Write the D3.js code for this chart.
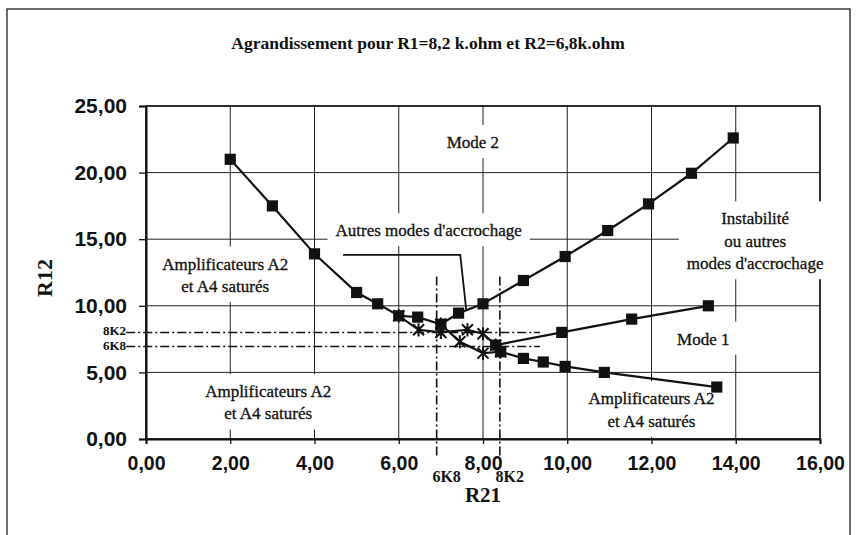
<!DOCTYPE html>
<html>
<head>
<meta charset="utf-8">
<script src="https://cdn.jsdelivr.net/npm/d3@7"></script>
<style>
  body { margin: 0; background: #fff; }
  text { fill: #111; }
</style>
</head>
<body>
<div class="chart"></div>
<script>
// values
var title = "Agrandissement pour R1=8,2 k.ohm et R2=6,8k.ohm";
var xTicks = [0, 2, 4, 6, 8, 10, 12, 14, 16];
var yTicks = [0, 5, 10, 15, 20, 25];

// U-shaped boundary (mode 2)
var mode2Curve = [[2, 21.0], [3, 17.5], [4, 13.9], [5, 11.0], [5.5, 10.15], [6, 9.25],
  [6.45, 9.15], [7, 8.62], [7.42, 9.45], [8, 10.15], [8.96, 11.9], [9.95, 13.7],
  [10.96, 15.65], [11.93, 17.65], [12.95, 19.95], [13.94, 22.6]];
// lower boundary (saturation)
var lowerCurve = [[8.42, 6.55], [8.96, 6.05], [9.43, 5.78], [9.95, 5.45], [10.88, 5.0], [13.55, 3.9]];
// mode 1 boundary
var mode1Curve = [[8.3, 7.05], [9.87, 8.0], [11.53, 9.0], [13.35, 10.0]];
// star series in the crossing zone
var crossA = [[6.0, 9.25], [6.47, 8.2], [7.0, 8.0], [7.63, 8.2], [8.0, 7.9], [8.3, 7.05]];
var crossB = [[7.0, 8.62], [7.45, 7.3], [8.0, 6.45], [8.42, 6.55]];

// reference resistor values (dash-dot lines)
var refX = [6.9, 8.4];
var refXLabels = ["6K8", "8K2"];
var refY = [8.0, 6.95];
var refYLabels = ["8K2", "6K8"];

var zoneTexts = [
  ["Mode 2"],
  ["Autres modes d'accrochage"],
  ["Amplificateurs A2", "et A4 saturés"],
  ["Amplificateurs A2", "et A4 saturés"],
  ["Amplificateurs A2", "et A4 saturés"],
  ["Mode 1"],
  ["Instabilité", "ou autres", "modes d'accrochage"]
];
// anchors of those texts, in data units
var zoneAnchors = [[7.76, 22.3], [6.71, 15.67], [1.88, 13.17], [2.9, 3.6], [12.0, 3.05], [13.23, 7.53], [14.46, 16.57]];

var margin = {top: 106, right: 37, bottom: 96, left: 146};
var width = 857 - margin.left - margin.right;
var height = 535 - margin.top - margin.bottom;

var svg = d3.select(".chart").append("svg")
    .attr("width", 857)
    .attr("height", 535)
    .style("font-family", "'Liberation Serif', 'Times New Roman', serif");

// outer frame of the chart area
svg.append("rect")
    .attr("x", 7).attr("y", 9)
    .attr("width", 843).attr("height", 540)
    .attr("fill", "none").attr("stroke", "#222").attr("stroke-width", 1.3);

svg.append("text")
    .attr("x", 428).attr("y", 45)
    .attr("text-anchor", "middle").attr("dominant-baseline", "middle")
    .style("font-size", "17.5px").style("font-weight", "bold")
    .text(title);

var g = svg.append("g")
    .attr("transform", "translate(" + margin.left + "," + margin.top + ")");

var x = d3.scaleLinear().domain([0, 16]).range([0, width]);
var y = d3.scaleLinear().domain([0, 25]).range([height, 0]);

var fmt = function(d) { return d3.format(".2f")(d).replace(".", ","); };

// grid
g.append("g").selectAll("line").data(xTicks).enter().append("line")
    .attr("x1", function(d) { return x(d); }).attr("x2", function(d) { return x(d); })
    .attr("y1", 0).attr("y2", height)
    .attr("stroke", "#222").attr("stroke-width", 1);
g.append("g").selectAll("line").data(yTicks).enter().append("line")
    .attr("y1", function(d) { return y(d); }).attr("y2", function(d) { return y(d); })
    .attr("x1", 0).attr("x2", width)
    .attr("stroke", "#222").attr("stroke-width", 1);

g.append("rect")
    .attr("width", width).attr("height", height)
    .attr("fill", "none").attr("stroke", "#111").attr("stroke-width", 1.5);

// axes
var yAxis = g.append("g")
    .call(d3.axisLeft(y).tickValues(yTicks).tickFormat(fmt).tickSize(7).tickPadding(12));
var xAxis = g.append("g")
    .attr("transform", "translate(0," + height + ")")
    .call(d3.axisBottom(x).tickValues(xTicks).tickFormat(fmt).tickSize(5).tickPadding(12));
[xAxis, yAxis].forEach(function(a) {
  a.select(".domain").attr("stroke", "#111").attr("stroke-width", 2);
  a.selectAll(".tick line").attr("stroke", "#111").attr("stroke-width", 1.3);
  a.selectAll(".tick text")
      .style("font-family", "'Liberation Sans', Arial, sans-serif")
      .style("font-weight", "bold")
      .attr("fill", "#111");
});
yAxis.selectAll(".tick text").style("font-size", "21px");
xAxis.selectAll(".tick text").style("font-size", "19.5px");

// dash-dot reference lines
var dash = "9,3,2,3";
g.append("g").selectAll("line").data(refX).enter().append("line")
    .attr("x1", function(d) { return x(d); }).attr("x2", function(d) { return x(d); })
    .attr("y1", y(12.2)).attr("y2", y(-1.25))
    .attr("stroke", "#111").attr("stroke-width", 1.6).attr("stroke-dasharray", dash);
g.append("g").selectAll("line").data(refY).enter().append("line")
    .attr("y1", function(d) { return y(d); }).attr("y2", function(d) { return y(d); })
    .attr("x1", x(-0.47)).attr("x2", x(9.35))
    .attr("stroke", "#111").attr("stroke-width", 1.6).attr("stroke-dasharray", dash);

g.append("g").selectAll("text").data(refX).enter().append("text")
    .attr("x", function(d) { return x(d) + 10; })
    .attr("y", height + 39)
    .attr("text-anchor", "middle").attr("dominant-baseline", "middle")
    .style("font-size", "16px").style("font-weight", "bold")
    .text(function(d, i) { return refXLabels[i]; });
g.append("g").selectAll("text").data(refY).enter().append("text")
    .attr("x", -20)
    .attr("y", function(d, i) { return y(d) + (i === 0 ? -0.5 : 0.5); })
    .attr("text-anchor", "end").attr("dominant-baseline", "middle")
    .style("font-size", "13px").style("font-weight", "bold")
    .text(function(d, i) { return refYLabels[i]; });

// zone labels with white boxes that hide the grid
var zones = g.append("g").selectAll("g").data(zoneTexts).enter().append("g");
zones.each(function(lines, i) {
  var z = d3.select(this);
  var a = zoneAnchors[i];
  var t = z.append("text")
      .attr("text-anchor", "middle")
      .attr("stroke", "#111").attr("stroke-width", 0.3)
      .style("font-size", "17px");
  t.selectAll("tspan").data(lines).enter().append("tspan")
      .attr("x", x(a[0]))
      .attr("y", function(d, k) { return y(a[1]) + k * 22.5; })
      .attr("dy", "0.35em")
      .text(function(d) { return d; });
  var b = t.node().getBBox();
  z.insert("rect", "text")
      .attr("x", b.x - 8).attr("y", b.y - 8)
      .attr("width", b.width + 16).attr("height", b.height + 14)
      .attr("fill", "#fff");
});

// curves
var line = d3.line()
    .x(function(d) { return x(d[0]); })
    .y(function(d) { return y(d[1]); });

var allSeries = [crossA, crossB, mode2Curve, lowerCurve, mode1Curve];
g.append("g").selectAll("path").data(allSeries).enter().append("path")
    .attr("d", line)
    .attr("fill", "none").attr("stroke", "#111").attr("stroke-width", 2.2);

// leader line for "Autres modes d'accrochage"
var leader = [[4.68, 13.83], [7.46, 13.83], [7.6, 9.75]];
g.append("path")
    .attr("d", line(leader))
    .attr("fill", "none").attr("stroke", "#111").attr("stroke-width", 1.8);

// star markers
function star(r) {
  return "M" + (-r) + "," + (-r) + "L" + r + "," + r +
         "M" + (-r) + "," + r + "L" + r + "," + (-r) +
         "M0," + (-r * 1.2) + "L0," + (r * 1.2);
}
g.append("g").selectAll("path").data(crossA.concat(crossB)).enter().append("path")
    .attr("transform", function(d) { return "translate(" + x(d[0]) + "," + y(d[1]) + ")"; })
    .attr("d", star(5.5))
    .attr("fill", "none").attr("stroke", "#111").attr("stroke-width", 2);

// square markers
var square = d3.symbol().type(d3.symbolSquare).size(125);
g.append("g").selectAll("path").data(mode2Curve.concat(lowerCurve, mode1Curve)).enter().append("path")
    .attr("transform", function(d) { return "translate(" + x(d[0]) + "," + y(d[1]) + ")"; })
    .attr("d", square)
    .attr("fill", "#111");

// axis titles
svg.append("text")
    .attr("transform", "translate(47,278) rotate(-90)")
    .attr("text-anchor", "middle").attr("dominant-baseline", "middle")
    .style("font-size", "22px").style("font-weight", "bold")
    .text("R12");
svg.append("text")
    .attr("x", 483).attr("y", 497)
    .attr("text-anchor", "middle").attr("dominant-baseline", "middle")
    .style("font-size", "21px").style("font-weight", "bold")
    .text("R21");
</script>
</body>
</html>
